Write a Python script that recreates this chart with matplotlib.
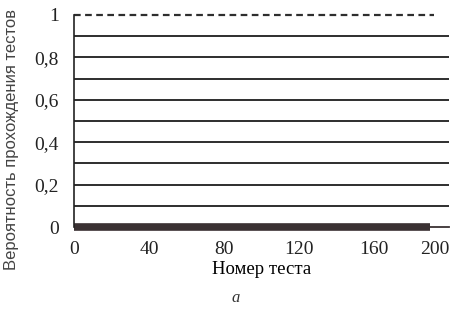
import numpy as np
import matplotlib.pyplot as plt

# уровни вероятности (горизонтальные линии)
levels = [0.1, 0.2, 0.3, 0.4, 0.5, 0.6, 0.7, 0.8, 0.9]
top_level = 1.0
x_start, x_end = 0, 200
zero_bar_end = 190
top_line_end = 192
xticks = [0, 40, 80, 120, 160, 200]
yticks = [0, 0.2, 0.4, 0.6, 0.8, 1]
ytick_labels = ['0', '0,2', '0,4', '0,6', '0,8', '1']

plt.rcParams['font.family'] = ['Liberation Serif', 'DejaVu Serif']

fig = plt.figure(figsize=(4.58, 3.11), dpi=100)
ax = fig.add_axes([0.1616, 0.27, 0.8188, 0.682])

for lv in levels:
    ax.plot([x_start, x_end], [lv, lv], color='#2e2e2e', lw=1.4)
ax.plot([x_start, top_line_end], [top_level, top_level], color='#2e2e2e',
        lw=1.6, ls=(0, (3, 2)), clip_on=False)
ax.plot([x_start, zero_bar_end], [0, 0], color='#3a3133', lw=5.5,
        solid_capstyle='butt', clip_on=False)
ax.plot([zero_bar_end, x_end], [0, 0], color='#3a3133', lw=1.3, clip_on=False)

ax.set_xlim(0, 200)
ax.set_ylim(0, 1)
ax.set_xticks(xticks)
ax.set_yticks(yticks)
ax.set_yticklabels(ytick_labels)
ax.tick_params(labelsize=14, length=0, colors='#222222')
ax.tick_params(axis='y', pad=11)
ax.tick_params(axis='x', pad=10)
ax.get_xticklabels()[-1].set_ha('right')
for s in ['top', 'right', 'bottom']:
    ax.spines[s].set_visible(False)
ax.spines['left'].set_color('#222222')
ax.spines['left'].set_linewidth(1.2)

ax.set_xlabel('Номер теста', fontsize=13.5, labelpad=2)
fig.text(12 / 458, 1 - 140 / 311, 'Вероятность прохождения тестов', rotation=90,
         fontsize=12, family='Liberation Sans', color='#444444',
         ha='center', va='center')
fig.text(0.515, 1 - 302 / 311, 'а', fontsize=12, style='italic', ha='center',
         color='#333333')

fig.savefig('out.png', dpi=100)
